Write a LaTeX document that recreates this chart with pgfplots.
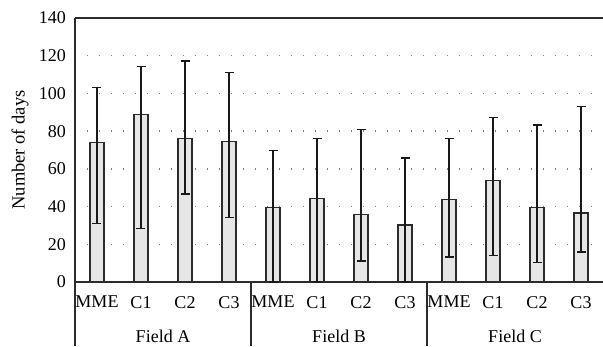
\documentclass[border=0pt]{standalone}
\usepackage{pgfplots}
\pgfplotsset{compat=1.18}
\usepackage{fontspec}
\setmainfont{Liberation Serif}
\definecolor{barfill}{HTML}{E6E6E6}
\definecolor{edge}{HTML}{2B2B2B}
\begin{document}
\fontsize{18}{21}\selectfont
\begin{tikzpicture}
\begin{axis}[
  scale only axis, width=528pt, height=264pt,
  xmin=-0.5, xmax=11.5, ymin=0, ymax=140,
  axis x line*=bottom, axis y line*=left,
  axis line style={line width=1.3pt, edge, -},
  xtick={0,...,11},
  xticklabels={MME,C1,C2,C3,MME,C1,C2,C3,MME,C1,C2,C3},
  ytick={0,20,...,140},
  major tick length=0pt,
  ymajorgrids,
  grid style={gray, line width=1.3pt, dash pattern=on 1.3pt off 10.7pt},
  ticklabel style={font=\fontsize{18}{21}\selectfont},
  xticklabel style={yshift=-8pt},
  yticklabel style={xshift=-3pt},
  /pgf/number format/assume math mode=true,
  ylabel={Number of days},
  ylabel style={font=\fontsize{18.5}{21}\selectfont, yshift=-2pt},
  ybar, bar width=14pt,
  clip=false,
]
\addplot[fill=barfill, draw=edge, line width=1.3pt,
  error bars/.cd, y dir=both, y explicit,
  error bar style={line width=1.3pt, black!90},
  error mark options={rotate=90, mark size=4.5pt, line width=1.3pt, black!90}]
  table[x=x, y=y, y error plus=ep, y error minus=em]{
x y ep em
0 73.9 29.1 42.8
1 88.9 25.3 60.4
2 76.2 41.0 29.5
3 74.6 36.4 40.5
4 39.6 30.0 39.6
5 44.4 31.8 44.4
6 35.9 45.1 24.8
7 30.2 35.5 30.2
8 43.6 32.6 30.3
9 53.9 33.4 39.8
10 39.6 43.6 29.4
11 36.6 56.4 20.7
};
\coordinate (sw) at (axis cs:-0.5,0);
\coordinate (ne) at (axis cs:11.5,140);
\draw[line width=1.3pt, edge] (axis cs:-0.5,140) -- (axis cs:11.5,140);
\draw[line width=1.3pt, edge] (axis cs:-0.5,0) -- ([yshift=-64pt]axis cs:-0.5,0);
\draw[line width=1.3pt, edge] (axis cs:3.5,0) -- ([yshift=-64pt]axis cs:3.5,0);
\draw[line width=1.3pt, edge] (axis cs:7.5,0) -- ([yshift=-64pt]axis cs:7.5,0);
\node at ([yshift=-54pt]axis cs:1.5,0) {Field A};
\node at ([yshift=-54pt]axis cs:5.5,0) {Field B};
\node at ([yshift=-54pt]axis cs:9.5,0) {Field C};
\end{axis}
\pgfresetboundingbox
\path ([shift={(-75pt,-64pt)}]sw) rectangle ([shift={(0pt,18pt)}]ne);
\end{tikzpicture}
\end{document}
